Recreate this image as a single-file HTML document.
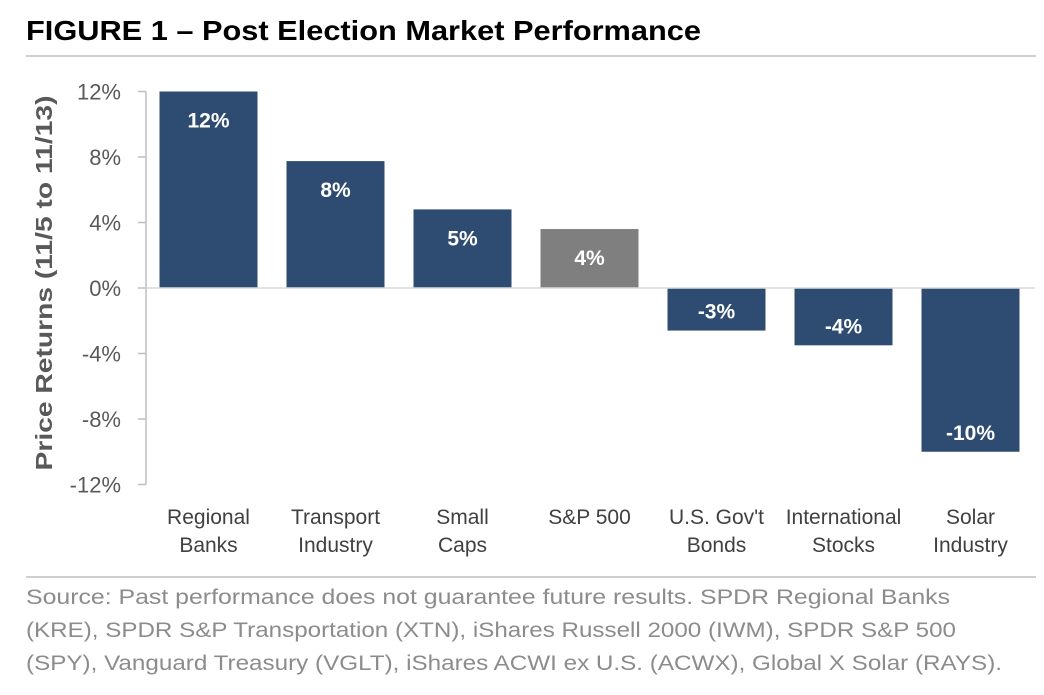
<!DOCTYPE html>
<html><head><meta charset="utf-8"><style>
body{margin:0;background:#fff;width:1044px;height:690px;overflow:hidden;font-family:"Liberation Sans",Arial,sans-serif}
</style></head><body>
<svg width="1044" height="690" xmlns="http://www.w3.org/2000/svg" font-family="Liberation Sans, Arial, sans-serif">
<text x="26" y="40" font-size="28" font-weight="bold" fill="#000" textLength="675" lengthAdjust="spacingAndGlyphs">FIGURE 1 – Post Election Market Performance</text>
<line x1="26" y1="56" x2="1036" y2="56" stroke="#bfbfbf" stroke-width="1.5"/>
<text transform="translate(52,283) rotate(-90)" text-anchor="middle" font-size="23" font-weight="bold" fill="#595959" textLength="375" lengthAdjust="spacingAndGlyphs">Price Returns (11/5 to 11/13)</text>
<g id="plot"></g>
<line x1="26" y1="577" x2="1036" y2="577" stroke="#bfbfbf" stroke-width="1.5"/>
<g font-size="21.5" fill="#8c8c8c">
<text x="26" y="604" textLength="924" lengthAdjust="spacingAndGlyphs">Source: Past performance does not guarantee future results. SPDR Regional Banks</text>
<text x="26" y="637" textLength="930" lengthAdjust="spacingAndGlyphs">(KRE), SPDR S&amp;P Transportation (XTN), iShares Russell 2000 (IWM), SPDR S&amp;P 500</text>
<text x="26" y="670" textLength="976" lengthAdjust="spacingAndGlyphs">(SPY), Vanguard Treasury (VGLT), iShares ACWI ex U.S. (ACWX), Global X Solar (RAYS).</text>
</g>
</svg>
<script>
const categories=[["Regional","Banks"],["Transport","Industry"],["Small","Caps"],["S&P 500"],["U.S. Gov't","Bonds"],["International","Stocks"],["Solar","Industry"]];
const values=[12.0,7.75,4.8,3.6,-2.6,-3.5,-10.0];
const valueLabels=["12%","8%","5%","4%","-3%","-4%","-10%"];
const barColors=["#2e4c72","#2e4c72","#2e4c72","#7f7f7f","#2e4c72","#2e4c72","#2e4c72"];
const yTicks=[12,8,4,0,-4,-8,-12];
const NS="http://www.w3.org/2000/svg";
const g=document.getElementById('plot');
const y0=288,ppu=(485-92)/24;
const y=v=>y0-v*ppu;
const x0=146,step=127,bw=98;
const xc=i=>x0+step*(i+0.5)-1;
function mk(t,a){const e=document.createElementNS(NS,t);for(const k in a)e.setAttribute(k,a[k]);g.appendChild(e);return e;}
let ax=mk('line',{x1:x0,y1:y(12),x2:x0,y2:y(-12),stroke:'#bfbfbf','stroke-width':1.5});


yTicks.forEach(t=>{
 let l=mk('line',{x1:x0-8,y1:y(t),x2:x0,y2:y(t),stroke:'#bfbfbf','stroke-width':1.5});
 
 
 let tx=mk('text',{x:x0-25,y:y(t)+8,'text-anchor':'end','font-size':22,fill:'#595959'});
 tx.textContent=t+'%';
 
 
});
values.forEach((v,i)=>{
 const top=Math.min(y(v),y0),h=Math.abs(y(v)-y0);
 let r=mk('rect',{x:xc(i)-bw/2,y:top,width:bw,height:h,fill:barColors[i]});
 
 
 let lt=mk('text',{x:xc(i),y:v>=0?top+36:top+h-12,'text-anchor':'middle','font-size':21,'font-weight':'bold',fill:'#fff'});
 lt.textContent=valueLabels[i];
 
 
 categories[i].forEach((s,j)=>{
  let c=mk('text',{x:xc(i),y:524+j*28,'text-anchor':'middle','font-size':21,fill:'#404040'});
  c.textContent=s;
  
  
 });
});
let zl=mk('line',{x1:x0,y1:y0,x2:1035,y2:y0,stroke:'#d9d9d9','stroke-width':1.5});


</script>
</body></html>
